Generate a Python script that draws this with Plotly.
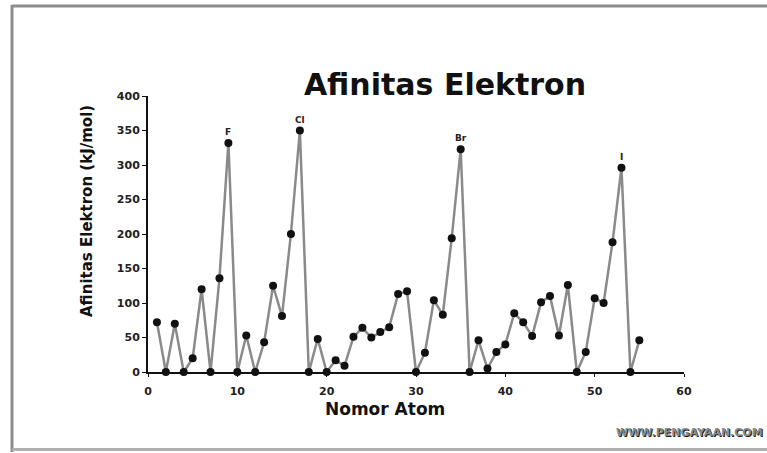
import plotly.graph_objects as go

atomic_numbers = list(range(1, 56))
affinity = [72, 0, 70, 0, 20, 120, 0, 136, 332, 0,
            53, 0, 43, 125, 81, 200, 350, 0, 48, 0,
            17, 9, 51, 64, 50, 58, 65, 113, 117, 0,
            28, 104, 83, 194, 323, 0, 46, 5, 29, 40,
            85, 72, 52, 101, 110, 53, 126, 0, 29, 107,
            100, 188, 296, 0, 46]
label_atoms = [9, 17, 35, 53]
label_text = ["F", "Cl", "Br", "I"]

x_ticks = [0, 10, 20, 30, 40, 50, 60]
y_ticks = [0, 50, 100, 150, 200, 250, 300, 350, 400]

FONT = "DejaVu Sans, Liberation Sans, Arial"

fig = go.Figure()
fig.add_trace(go.Scatter(
    x=atomic_numbers, y=affinity, mode="lines+markers",
    line=dict(color="#8a8a8a", width=2.5),
    marker=dict(color="#111111", size=8),
    cliponaxis=False, showlegend=False,
))

for a, t in zip(label_atoms, label_text):
    fig.add_annotation(x=a, y=affinity[a - 1], text="<b>%s</b>" % t,
                       showarrow=False, yshift=11,
                       font=dict(family=FONT, size=9, color="#222"))

# axis titles (placed as in the reference, slightly off-centre)
fig.add_annotation(xref="paper", yref="paper", x=0.442, y=-0.134,
                   xanchor="center", yanchor="middle", showarrow=False,
                   text="<b>Nomor Atom</b>",
                   font=dict(family=FONT, size=17, color="#111"))
fig.add_annotation(xref="paper", yref="paper", x=-0.114, y=0.583,
                   xanchor="center", yanchor="middle", showarrow=False,
                   textangle=-90, text="<b>Afinitas Elektron (kJ/mol)</b>",
                   font=dict(family=FONT, size=15, color="#111"))

fig.add_annotation(xref="paper", yref="paper", x=1.151, y=-0.221,
                   xanchor="right", yanchor="middle",
                   text="<b>WWW.PENGAYAAN.COM</b>", showarrow=False,
                   font=dict(family=FONT, size=11, color="#8a8a8a",
                             shadow="1px 1px 0px #222"))

# frame lines (photo border)
fig.add_shape(type="line", xref="paper", yref="paper", x0=-0.2537, x1=1.16, y0=1.326, y1=1.326,
              line=dict(color="#8c8c8c", width=3))
fig.add_shape(type="line", xref="paper", yref="paper", x0=-0.2537, x1=-0.2537, y0=1.33, y1=-0.29,
              line=dict(color="#8c8c8c", width=3))
fig.add_shape(type="line", xref="paper", yref="paper", x0=-0.2537, x1=1.16, y0=-0.281, y1=-0.281,
              line=dict(color="#b0b0b0", width=3))

fig.update_layout(
    width=767, height=453,
    margin=dict(l=148, r=83, t=96, b=81),
    paper_bgcolor="white", plot_bgcolor="white",
    title=dict(text="<b>Afinitas Elektron</b>", x=445 / 767, xanchor="center",
               y=1 - 84 / 453, yanchor="middle",
               font=dict(family=FONT, size=30, color="#111")),
    xaxis=dict(range=[0, 60], tickvals=x_ticks, showgrid=False, zeroline=False,
               showline=True, linecolor="#111", linewidth=2,
               ticks="outside", ticklen=3, tickcolor="#111", ticklabelstandoff=5,
               tickfont=dict(family=FONT, size=11, color="#222", weight="bold")),
    yaxis=dict(range=[0, 400], tickvals=y_ticks, showgrid=False, zeroline=False,
               showline=True, linecolor="#111", linewidth=2,
               ticks="outside", ticklen=4, tickcolor="#111",
               tickfont=dict(family=FONT, size=11, color="#222", weight="bold")),
)

fig.write_html("out.html", config={"displayModeBar": False},
               post_script="document.body.style.margin='0px';")
